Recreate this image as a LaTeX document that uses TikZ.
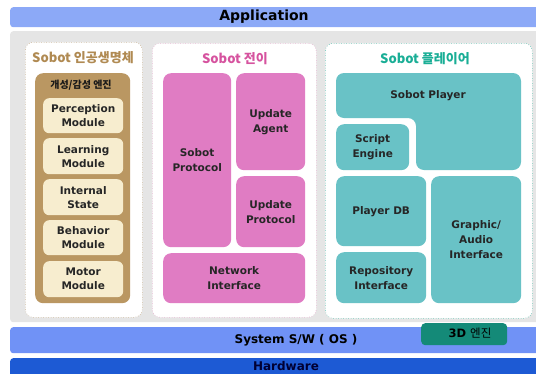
\documentclass[tikz,border=0pt]{standalone}
\usepackage{fontspec}
\setmainfont{DejaVu Sans}
\newfontfamily\kr{Noto Sans CJK KR}
\usepackage{xcolor}
\usetikzlibrary{positioning}

\definecolor{appblue}{HTML}{8CA9F7}
\definecolor{sysblue}{HTML}{7092F6}
\definecolor{hwblue}{HTML}{1D5AD4}
\definecolor{panelgrey}{HTML}{E5E5E5}
\definecolor{lifebrown}{HTML}{B08A52}
\definecolor{enginebrown}{HTML}{BA9762}
\definecolor{modcream}{HTML}{F7EDCF}
\definecolor{movepink}{HTML}{D6539F}
\definecolor{boxpink}{HTML}{E07CC3}
\definecolor{playteal}{HTML}{1AAE96}
\definecolor{boxteal}{HTML}{69C2C6}
\definecolor{engteal}{HTML}{148A78}

\begin{document}
\begin{tikzpicture}[x=1pt, y=-1pt,
        every node/.style={font=\bfseries, align=center},
        bar/.style={rectangle, rounded corners=3pt, anchor=north west, inner sep=0pt},
        group/.style={rectangle, draw, dotted, line width=0.5pt, fill=white, rounded corners=8pt, anchor=north west, inner sep=0pt},
        grouptitle/.style={font=\kr\bfseries\fontsize{13}{13}\selectfont},
        module/.style={rectangle, fill=modcream, rounded corners=6pt, anchor=north west, inner sep=0pt, minimum width=80pt, text=black!85, font=\bfseries\fontsize{10.5}{14}\selectfont},
        pinkbox/.style={rectangle, fill=boxpink, rounded corners=8pt, anchor=north west, inner sep=0pt, text=black!85, font=\bfseries\fontsize{10.5}{15}\selectfont},
        tealbox/.style={rectangle, fill=boxteal, rounded corners=8pt, anchor=north west, inner sep=0pt, text=black!85, font=\bfseries\fontsize{10.5}{15}\selectfont}
    ]
        \useasboundingbox (0,0) rectangle (536,373);

        % Layers
        \node[bar, fill=appblue, minimum width=530pt, minimum height=20pt] (app) at (10,7) {};
        \node (applabel) at (264,17) {\fontsize{14}{14}\selectfont Application};
        \node[bar, fill=panelgrey, minimum width=530pt, minimum height=291pt] (panel) at (10,31) {};
        \node[bar, fill=sysblue, minimum width=530pt, minimum height=26pt] (sys) at (10,327) {};
        \node (syslabel) at (296,340) {\fontsize{12}{12}\selectfont System S/W ( OS )};
        \node[bar, fill=hwblue, minimum width=530pt, minimum height=20pt] (hw) at (10,358) {};
        \node[text=black!80!blue] (hwlabel) at (286,366) {\fontsize{12}{12}\selectfont Hardware};
        \node[bar, fill=engteal, rounded corners=4pt, minimum width=86pt, minimum height=22pt] (engine) at (421,323) {};
        \node (enginelabel) at (470,333) {\fontsize{11.5}{11.5}\selectfont 3D {\kr\mdseries 엔진}};

        % Sobot life
        \node[group, draw=lifebrown!80, minimum width=117pt, minimum height=275pt] (life) at (25,42) {};
        \node[grouptitle, text=lifebrown] (lifetitle) at (83,58) {Sobot 인공생명체};
        \node[bar, fill=enginebrown, rounded corners=8pt, minimum width=95pt, minimum height=230pt] (emotion) at (35,73) {};
        \node[font=\kr\bfseries\fontsize{10}{10}\selectfont, text=black!90] (emotiontitle) at (81,85) {개성/감성 엔진};
        \node[module, minimum height=35pt] (perception) at (43,98) {Perception\\Module};
        \node[module, minimum height=36pt] (learning) at (43,138) {Learning\\Module};
        \node[module, minimum height=36pt] (internal) at (43,179) {Internal\\State};
        \node[module, minimum height=35pt] (behavior) at (43,220) {Behavior\\Module};
        \node[module, minimum height=36pt] (motor) at (43,261) {Motor\\Module};

        % Sobot move
        \node[group, draw=movepink!60, minimum width=164pt, minimum height=274pt] (move) at (152,43) {};
        \node[grouptitle, text=movepink] (movetitle) at (235,59) {Sobot 전이};
        \node[pinkbox, minimum width=68pt, minimum height=174pt] (protocol) at (163,73) {Sobot\\Protocol};
        \node[pinkbox, minimum width=69pt, minimum height=97pt] (agent) at (236,73) {Update\\Agent};
        \node[pinkbox, minimum width=69pt, minimum height=71pt] (updproto) at (236,176) {Update\\Protocol};
        \node[pinkbox, minimum width=142pt, minimum height=50pt] (network) at (163,253) {Network\\Interface};

        % Sobot player
        \node[group, draw=playteal!90, minimum width=207pt, minimum height=275pt] (play) at (325,43) {};
        \node[grouptitle, text=playteal] (playtitle) at (425,59) {Sobot 플레이어};
        \fill[boxteal, rounded corners=8pt] (336,73) -- (521,73) -- (521,170) -- (416,170)
            -- (416,118) -- (336,118) -- cycle;
        \node[text=black!85, font=\bfseries\fontsize{10.5}{15}\selectfont] (player) at (428,96) {Sobot Player};
        \node[tealbox, minimum width=73pt, minimum height=46pt] (script) at (336,124) {Script\\Engine};
        \node[tealbox, minimum width=90pt, minimum height=70pt] (db) at (336,176) {Player DB};
        \node[tealbox, minimum width=90pt, minimum height=51pt] (repo) at (336,252) {Repository\\Interface};
        \node[tealbox, minimum width=90pt, minimum height=127pt] (graphic) at (431,176) {Graphic/\\Audio\\Interface};

    \end{tikzpicture}
\end{document}
